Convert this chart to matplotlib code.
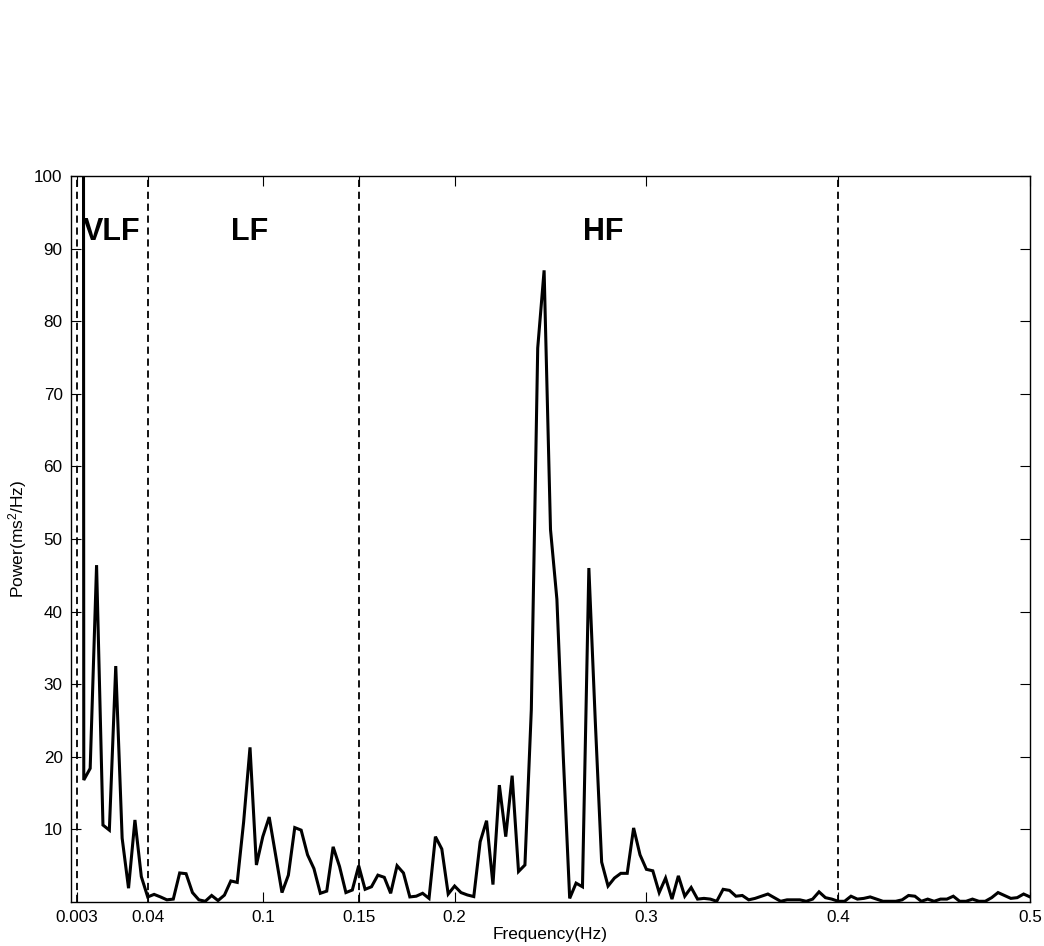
import numpy as np
import matplotlib
matplotlib.use("Agg")
import matplotlib.pyplot as plt

plt.rcParams['font.family'] = ['Liberation Sans', 'DejaVu Sans']
plt.rcParams['mathtext.default'] = 'regular'

# Spectrum: frequency bins of 1/300 Hz, 0 .. 0.5 Hz
n_bins = 151
freq_step = 1.0 / 300.0
power = [
    1500, 2000, 16.8, 18.4, 46.4, 10.6, 9.9, 32.5, 8.8, 1.9,
    11.3, 3.5, 0.7, 1.05, 0.7, 0.3, 0.4, 4.0, 3.9, 1.3,
    0.3, 0.1, 0.9, 0.2, 0.95, 2.9, 2.7, 11.0, 21.3, 5.1,
    9.0, 11.7, 6.5, 1.3, 3.7, 10.25, 9.9, 6.5, 4.6, 1.2,
    1.5, 7.6, 4.9, 1.3, 1.65, 5.0, 1.75, 2.1, 3.7, 3.4,
    1.2, 5.0, 4.0, 0.7, 0.8, 1.2, 0.5, 9.0, 7.3, 1.1,
    2.2, 1.3, 0.97, 0.75, 8.3, 11.2, 2.4, 16.1, 9.0, 17.4,
    4.2, 5.1, 26.5, 76.3, 87.0, 51.3, 41.7, 20.0, 0.5, 2.6,
    2.1, 46.0, 25.0, 5.5, 2.2, 3.3, 3.95, 3.95, 10.2, 6.5,
    4.5, 4.3, 1.3, 3.3, 0.4, 3.6, 0.8, 2.0, 0.4, 0.5,
    0.4, 0.1, 1.75, 1.6, 0.8, 0.9, 0.3, 0.5, 0.8, 1.1,
    0.6, 0.1, 0.3, 0.3, 0.3, 0.1, 0.4, 1.4, 0.6, 0.4,
    0.1, 0.1, 0.8, 0.4, 0.5, 0.7, 0.4, 0.1, 0.1, 0.1,
    0.3, 0.9, 0.8, 0.1, 0.4, 0.1, 0.4, 0.4, 0.8, 0.1,
    0.1, 0.4, 0.1, 0.1, 0.6, 1.3, 0.9, 0.5, 0.6, 1.1,
    0.7,
]
freq = np.arange(n_bins) * freq_step

band_edges = [0.003, 0.04, 0.15, 0.4]
band_names = ["VLF", "LF", "HF"]
band_label_x = [0.0214, 0.093, 0.2776]
band_label_y = 92.3

xtick_vals = [0.003, 0.04, 0.1, 0.15, 0.2, 0.3, 0.4, 0.5]
xtick_labels = ["0.003", "0.04", "0.1", "0.15", "0.2", "0.3", "0.4", "0.5"]
ytick_vals = [10, 20, 30, 40, 50, 60, 70, 80, 90, 100]

fig = plt.figure(figsize=(10.44, 9.46), dpi=100)
ax = fig.add_axes([0.068, 0.0465, 0.9186, 0.7675])

for e in band_edges:
    ax.axvline(e, color='black', lw=1.3, linestyle=(0, (4, 2.6)), zorder=1)

ax.plot(freq, power, color='black', lw=2.2, zorder=3, solid_joinstyle='miter')

for name, x in zip(band_names, band_label_x):
    ax.text(x, band_label_y, name, fontsize=22, fontweight='bold',
            ha='center', va='center', zorder=4)

ax.set_xlim(0, 0.5)
ax.set_ylim(0, 100)
ax.set_xticks(xtick_vals)
ax.set_xticklabels(xtick_labels)
ax.set_yticks(ytick_vals)
ax.tick_params(direction='in', top=True, right=True, length=7, width=0.8,
               labelsize=12.3, pad=6)
for s in ax.spines.values():
    s.set_linewidth(1.0)

ax.set_xlabel("Frequency(Hz)", fontsize=12.5, labelpad=1)
ax.set_ylabel("Power(ms$^2$/Hz)", fontsize=12.5, labelpad=4)

fig.savefig("out.png", dpi=100)
